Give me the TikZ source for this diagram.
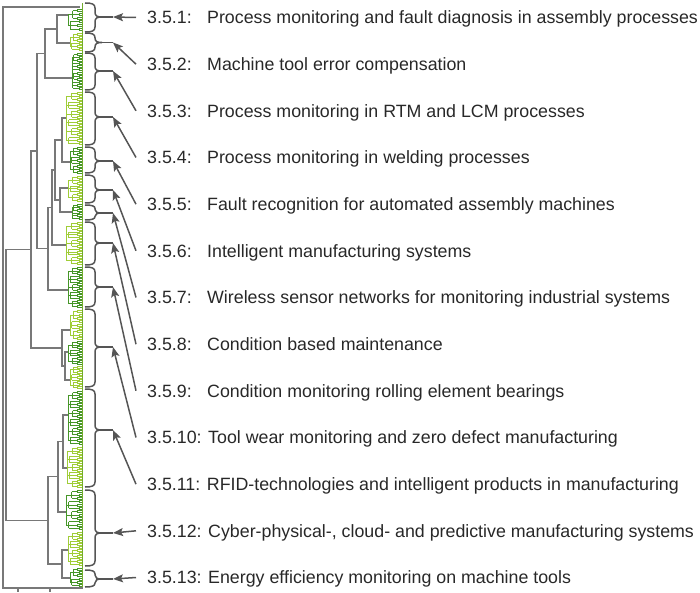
\documentclass[tikz,border=0pt]{standalone}
\usepackage{fontspec}
\setmainfont{Liberation Sans}
\usetikzlibrary{arrows.meta}

\definecolor{trunkgray}{RGB}{120,120,120}
\definecolor{linkgray}{RGB}{85,85,85}
\definecolor{txtgray}{RGB}{40,40,40}
\definecolor{leafdark}{RGB}{70,150,40}
\definecolor{leaflight}{RGB}{160,205,55}
\definecolor{leafband}{RGB}{115,172,45}

\newcommand{\numbox}[1]{\makebox[60pt][l]{#1}}

% y0, y1, root x, colour
\newcommand{\leafgroup}[4]{%
  \pgfmathtruncatemacro{\ng}{max(1,round((#2-#1)/9))}%
  \pgfmathsetmacro{\hg}{(#2-#1)/\ng}%
  \pgfmathsetmacro{\dy}{\hg/3}%
  \foreach \k in {1,...,\ng}{%
    \pgfmathsetmacro{\cy}{#1+(\k-0.5)*\hg}%
    \pgfmathsetmacro{\xs}{#3+(75-#3)*(0.3+0.35*mod(\k,2))}%
    \draw[leaf,#4] (#3,\cy) -- (\xs,\cy) (\xs,\cy-\dy) -- (\xs,\cy+\dy);
    \foreach \p in {-1,0,1}{%
      \pgfmathsetmacro{\py}{\cy+\p*\dy}%
      \pgfmathsetmacro{\xp}{77+2*mod(\p+\k+2,2)}%
      \draw[leaf,#4] (\xs,\py) -- (\xp,\py) (\xp,\py-1) -- (\xp,\py+1)
        (\xp,\py-1) -- (83,\py-1) (\xp,\py+1) -- (83,\py+1);
    }%
  }%
  \draw[leaf,#4] (#3,#1+\hg/2) -- (#3,#2-\hg/2);%
}

% top, bottom, tip, name
\newcommand{\bracegrp}[4]{%
  \pgfmathsetmacro{\br}{min(5,(#3-#1)/2,(#2-#3)/2)}%
  \draw[brc] (85,#1) .. controls (92,#1) and (95,#1+1) .. (95,#1+\br)
    -- (95,#3-\br) .. controls (95,#3-1) and (97,#3) .. (102,#3)
    .. controls (97,#3) and (95,#3+1) .. (95,#3+\br)
    -- (95,#2-\br) .. controls (95,#2-1) and (92,#2) .. (85,#2);
  \draw[brc] (102,#3) -- (113,#3) coordinate (#4);%
}

\begin{document}
\begin{tikzpicture}[x=1pt,y=-1pt,
  trunk/.style={draw=trunkgray,line width=1.2pt},
  leaf/.style={line width=1pt},
  brc/.style={draw=linkgray,line width=1.5pt},
  ptr/.style={draw=linkgray,line width=1.5pt,-{Stealth[length=10pt,width=8pt,inset=2pt]}},
  lbl/.style={anchor=west,inner xsep=11pt,inner ysep=0pt,text height=12.5pt,text depth=0pt,
    text=txtgray,font=\fontsize{17.8}{21}\selectfont}]
\useasboundingbox (0,0) rectangle (700,593);

\leafgroup{9}{31}{68}{leafdark}
\leafgroup{33}{51}{70}{leaflight}
\leafgroup{53}{90}{72}{leafdark}
\leafgroup{92}{145}{66}{leaflight}
\leafgroup{147}{174}{70}{leafdark}
\leafgroup{176}{202}{68}{leaflight}
\leafgroup{204}{220}{72}{leafdark}
\leafgroup{222}{265}{66}{leaflight}
\leafgroup{267}{308}{68}{leafdark}
\leafgroup{310}{340}{70}{leaflight}
\leafgroup{341}{365}{68}{leafdark}
\leafgroup{366}{389}{70}{leaflight}
\leafgroup{391}{445}{68}{leafdark}
\leafgroup{447}{488}{67}{leaflight}
\leafgroup{490}{530}{66}{leafdark}
\leafgroup{532}{566}{68}{leaflight}
\leafgroup{568}{587}{70}{leafdark}
\draw[leafband,line width=1.1pt] (82.6,3) -- (82.6,588);

\draw[trunk] (80,7) -- (3,7) -- (3,588) -- (83,588);
\draw[trunk] (18,588) -- (18,592) (50,588) -- (50,592);
\draw[trunk] (68,15) -- (57,15) -- (57,43) -- (70,43);
\draw[trunk] (57,29) -- (45,29) -- (45,78) -- (72,78);
\draw[trunk] (66,118) -- (62,118) -- (62,162) -- (70,162);
\draw[trunk] (68,188) -- (60,188) -- (60,212) -- (72,212);
\draw[trunk] (62,140) -- (55,140) -- (55,200) -- (60,200);
\draw[trunk] (55,170) -- (52,170) -- (52,245) -- (66,245);
\draw[trunk] (52,207.5) -- (48,207.5) -- (48,290) -- (68,290);
\draw[trunk] (45,53.5) -- (37,53.5) -- (37,248.8) -- (48,248.8);
\draw[trunk] (68,352) -- (65,352) -- (65,380) -- (70,380);
\draw[trunk] (70,330) -- (62,330) -- (62,366) -- (65,366);
\draw[trunk] (37,151.1) -- (31,151.1) -- (31,348) -- (62,348);
\draw[trunk] (68,415) -- (63,415) -- (63,468) -- (67,468);
\draw[trunk] (63,441.5) -- (58,441.5) -- (58,512) -- (66,512);
\draw[trunk] (68,550) -- (62,550) -- (62,578) -- (70,578);
\draw[trunk] (58,476.8) -- (48,476.8) -- (48,564) -- (62,564);
\draw[trunk] (31,249.6) -- (6,249.6) -- (6,520.4) -- (48,520.4);

\bracegrp{3}{32}{17}{g1}
\bracegrp{33}{52}{42.5}{g2}
\bracegrp{53}{90}{71}{g3}
\bracegrp{92}{145}{117}{g4}
\bracegrp{147}{173}{161}{g5}
\bracegrp{175}{203}{190}{g6}
\bracegrp{205}{220}{213}{g7}
\bracegrp{222}{265}{243}{g8}
\bracegrp{267}{307}{287}{g9}
\bracegrp{309}{387}{347}{g10}
\bracegrp{389}{487}{430}{g11}
\bracegrp{490}{566}{533}{g12}
\bracegrp{570}{587}{579}{g13}

\node[lbl] (l1) at (136,17.5) {\numbox{3.5.1:}Process monitoring and fault diagnosis in assembly processes};
\node[lbl] (l2) at (136,64.2) {\numbox{3.5.2:}Machine tool error compensation};
\node[lbl] (l3) at (136,110.8) {\numbox{3.5.3:}Process monitoring in RTM and LCM processes};
\node[lbl] (l4) at (136,157.5) {\numbox{3.5.4:}Process monitoring in welding processes};
\node[lbl] (l5) at (136,204.2) {\numbox{3.5.5:}Fault recognition for automated assembly machines};
\node[lbl] (l6) at (136,250.8) {\numbox{3.5.6:}Intelligent manufacturing systems};
\node[lbl] (l7) at (136,297.5) {\numbox{3.5.7:}Wireless sensor networks for monitoring industrial systems};
\node[lbl] (l8) at (136,344.2) {\numbox{3.5.8:}Condition based maintenance};
\node[lbl] (l9) at (136,390.8) {\numbox{3.5.9:}Condition monitoring rolling element bearings};
\node[lbl] (l10) at (136,437.5) {3.5.10: Tool wear monitoring and zero defect manufacturing};
\node[lbl] (l11) at (136,484.2) {3.5.11: RFID-technologies and intelligent products in manufacturing};
\node[lbl] (l12) at (136,530.8) {3.5.12: Cyber-physical-, cloud- and predictive manufacturing systems};
\node[lbl] (l13) at (136,577.5) {3.5.13: Energy efficiency monitoring on machine tools};

\draw[ptr] (l1.west) -- (g1);
\draw[ptr] (l2.west) -- (g2);
\draw[ptr] (l3.west) -- (g3);
\draw[ptr] (l4.west) -- (g4);
\draw[ptr] (l5.west) -- (g5);
\draw[ptr] (l6.west) -- (g6);
\draw[ptr] (l7.west) -- (g7);
\draw[ptr] (l8.west) -- (g8);
\draw[ptr] (l9.west) -- (g9);
\draw[ptr] (l10.west) -- (g10);
\draw[ptr] (l11.west) -- (g11);
\draw[ptr] (l12.west) -- (g12);
\draw[ptr] (l13.west) -- (g13);
\end{tikzpicture}
\end{document}
